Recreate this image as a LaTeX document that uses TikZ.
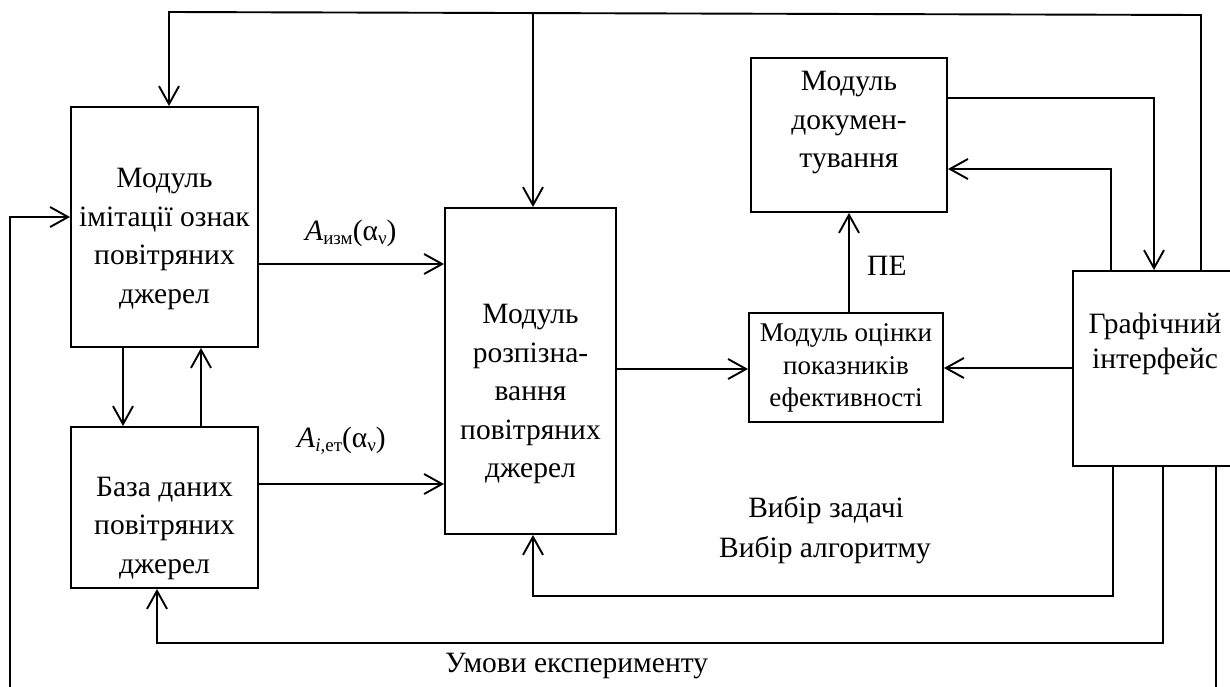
\documentclass[tikz,border=0pt]{standalone}
\usepackage{fontspec}
\setmainfont{Liberation Serif}
\usetikzlibrary{arrows.meta}
\newcommand{\subtx}[1]{\raisebox{-0.35ex}{\fontsize{19}{19}\selectfont #1}}
\begin{document}
\begin{tikzpicture}[x=1pt,y=-1pt,
  conn/.style={line width=1.9pt},
  arr/.style={conn,-{Straight Barb[length=18pt,width=20pt]}},
  box/.style={draw,line width=1.9pt,inner sep=0pt},
  txt/.style={align=center,inner sep=0pt,font=\fontsize{29.5}{38.5}\selectfont},
  stxt/.style={align=center,inner sep=0pt,font=\fontsize{27}{32.5}\selectfont},
  lbl/.style={inner sep=0pt,font=\fontsize{29.5}{32}\selectfont}]
\useasboundingbox (0,0) rectangle (1230,686);
% boxes
\node[box,minimum width=187pt,minimum height=240pt] (b1) at (164.5,227) {};
\node[box,minimum width=187pt,minimum height=161pt] (b2) at (164.5,507.5) {};
\node[box,minimum width=171pt,minimum height=326pt] (b3) at (530.5,371) {};
\node[box,minimum width=196pt,minimum height=154pt] (b4) at (849,135) {};
\node[box,minimum width=194pt,minimum height=109pt] (b5) at (846,367.5) {};
\node[box,minimum width=172pt,minimum height=195pt] (b6) at (1159,368.5) {};
% texts
\node[txt] (t1) at (164.5,239) {Модуль\\імітації ознак\\повітряних\\джерел};
\node[txt] (t2) at (164.5,528) {База даних\\повітряних\\джерел};
\node[txt] (t3) at (530.5,394) {Модуль\\розпізна-\\вання\\повітряних\\джерел};
\node[txt] (t4) at (849,123) {Модуль\\докумен-\\тування};
\node[stxt] (t5) at (846,368) {Модуль оцінки\\показників\\ефективності};
\node[txt,font=\fontsize{29.5}{35}\selectfont] (t6) at (1155,344) {Графічний\\інтерфейс};
% labels
\node[lbl,anchor=base west] (la) at (305,240) {\textit{A}\subtx{изм}(α\subtx{ν})};
\node[lbl,anchor=base west] (lb) at (297,447) {\textit{A}\subtx{\textit{i},ет}(α\subtx{ν})};
\node[lbl,anchor=base west] (lpe) at (867,275) {ПЕ};
\node[lbl,anchor=base] (lv1) at (826,517) {Вибір задачі};
\node[lbl,anchor=base] (lv2) at (825,557) {Вибір алгоритму};
\node[lbl,anchor=base west] (lu) at (445,672) {Умови експерименту};
% coordinates
\coordinate (tl) at (169,12);
\coordinate (tr) at (1201,15);
\coordinate (tm) at (533,13.3);
\coordinate (d1) at (1154,98);
\coordinate (d2) at (1111,169);
\coordinate (pe) at (849,300);
\coordinate (m1) at (600,369);
\coordinate (m2) at (1000,368);
\coordinate (a1) at (300,264);
\coordinate (a2) at (300,484);
\coordinate (v1) at (123,400);
\coordinate (v2) at (201,400);
\coordinate (l0) at (10,700);
\coordinate (l1) at (10,217);
\coordinate (r1) at (1113,596);
\coordinate (r1b) at (533,596);
\coordinate (r2) at (1163,643);
\coordinate (r2b) at (157,643);
\coordinate (r3) at (1216,700);
% connectors
\draw[arr] (b6.north -| tr) -- (tr) -- (tl) -- (b1.north -| tl);
\draw[arr] (tm) -- (b3.north -| tm);
\draw[arr] (b4.east |- d1) -- (d1) -- (b6.north -| d1);
\draw[arr] (b6.north -| d2) -- (d2) -- (b4.east |- d2);
\draw[arr] (b5.north -| pe) -- (b4.south -| pe);
\draw[arr] (b3.east |- m1) -- (b5.west |- m1);
\draw[arr] (b6.west |- m2) -- (b5.east |- m2);
\draw[arr] (b1.east |- a1) -- (b3.west |- a1);
\draw[arr] (b2.east |- a2) -- (b3.west |- a2);
\draw[arr] (b1.south -| v1) -- (b2.north -| v1);
\draw[arr] (b2.north -| v2) -- (b1.south -| v2);
\draw[arr] (l0) -- (l1) -- (b1.west |- l1);
\draw[arr] (b6.south -| r1) -- (r1) -- (r1b) -- (b3.south -| r1b);
\draw[arr] (b6.south -| r2) -- (r2) -- (r2b) -- (b2.south -| r2b);
\draw[conn] (b6.south -| r3) -- (r3);
\end{tikzpicture}
\end{document}
